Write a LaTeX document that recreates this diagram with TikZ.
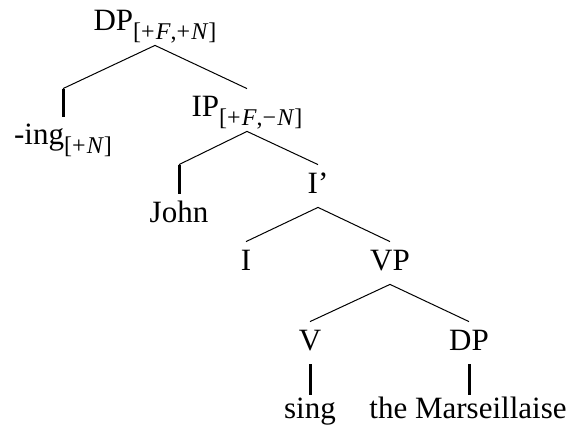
\documentclass[tikz,border=0pt]{standalone}
\usepackage{fontspec}
\setmainfont{Liberation Serif}
\usetikzlibrary{positioning}

\newcommand{\feat}[1]{\raisebox{-4.5pt}{\fontsize{12}{13}\selectfont[#1]}}

\begin{document}
\begin{tikzpicture}[
  x=0.5pt, y=-0.5pt,
  cat/.style={anchor=base, inner sep=3.5pt, text height=10.5pt, text depth=3.5pt, font=\fontsize{15.5}{18}\selectfont},
  word/.style={cat, text height=8pt},
  branch/.style={line width=0.5pt},
  stem/.style={line width=1.5pt}
]
\useasboundingbox (0,0) rectangle (572,427);
\node[cat] (dp)   at (155,31)  {DP\feat{+\kern0.6pt\textit{F},+\kern0.6pt\textit{N}}};
\node[cat] (ing)  at (63,145)  {-ing\feat{+\kern0.6pt\textit{N}}};
\node[cat] (ip)   at (247,117) {IP\feat{+\kern0.6pt\textit{F},−\kern0.6pt\textit{N}}};
\node[cat] (john) at (179,222) {John};
\node[cat] (ibar) at (318,193) {I’};
\node[cat] (i)    at (246,270) {I};
\node[cat] (vp)   at (390,270) {VP};
\node[cat] (v)    at (310,350) {V};
\node[cat] (dpb)  at (469,350) {DP};
\node[word] (sing) at (310,418) {sing};
\node[word] (mars) at (468,418) {the Marseillaise};

\draw[branch] (dp.south) -- (ing.north |- ip.north);
\draw[stem] (ing.north |- ip.north) -- (ing.north);
\draw[branch] (dp.south) -- (ip.north);
\draw[branch] (ip.south) -- (john.north |- ibar.north);
\draw[stem] (john.north |- ibar.north) -- (john.north);
\draw[branch] (ip.south) -- (ibar.north);
\draw[branch] (ibar.south) -- (i.north);
\draw[branch] (ibar.south) -- (vp.north);
\draw[branch] (vp.south) -- (v.north);
\draw[branch] (vp.south) -- (dpb.north);
\draw[stem] (v.south) -- (v.south |- sing.north);
\draw[stem] (dpb.south) -- (dpb.south |- mars.north);
\end{tikzpicture}
\end{document}
